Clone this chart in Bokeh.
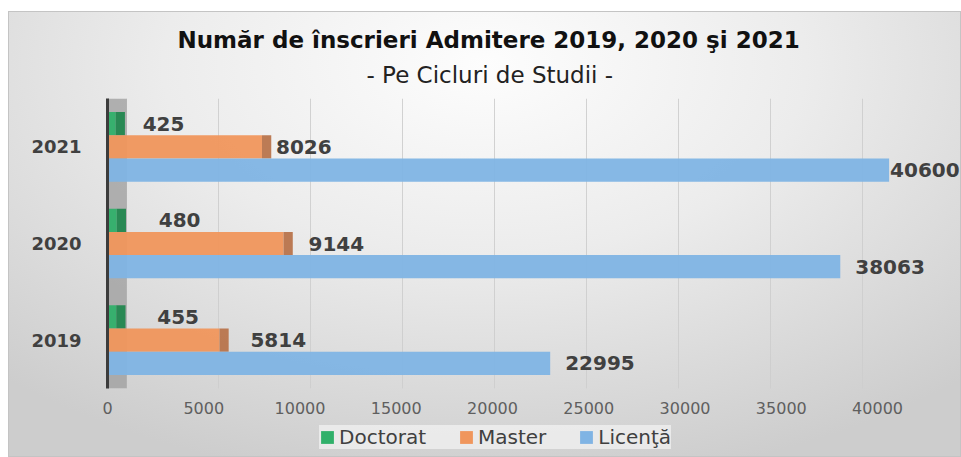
from bokeh.plotting import figure
from bokeh.layouts import column
from bokeh.models import (ColumnDataSource, FactorRange, Range1d, Legend, LegendItem,
                          BoxAnnotation, Title, Grid, FixedTicker)
from bokeh.transform import dodge
from bokeh.core.properties import value
from bokeh.embed import file_html
from bokeh.resources import INLINE

# ---------------- data ----------------
years = ["2019", "2020", "2021"]
doctorat = [455, 480, 425]
master = [5814, 9144, 8026]
licenta = [22995, 38063, 40600]
series_names = ["Doctorat", "Master", "Licenţă"]
x_ticks = [0, 5000, 10000, 15000, 20000, 25000, 30000, 35000, 40000]
x_tick_labels = ["0", "5000", "10000", "15000", "20000", "25000", "30000", "35000", "40000"]
title_text = "Număr de înscrieri Admitere 2019, 2020 şi 2021"
subtitle_text = "- Pe Cicluri de Studii -"

# ---------------- style ----------------
FONT = "DejaVu Sans"
GREEN, GREEN_SIDE = "#30b06a", "#22874f"
ORANGE, ORANGE_SIDE = "#f0965c", "#b8744c"
BLUE = "#80b4e4"
BAR_H = 0.24
DEPTH = 480            # depth of the pseudo-3D end face, in value units
# label pixel offsets per series (2019, 2020, 2021)
LABEL_DX = {"Doctorat": [41, 42, 27], "Master": [31, 25, 14], "Licenţă": [15, 15, 1]}

series_vals = {"Doctorat": doctorat, "Master": master, "Licenţă": licenta}
series_col = {"Doctorat": (GREEN, GREEN_SIDE), "Master": (ORANGE, ORANGE_SIDE),
              "Licenţă": (BLUE, None)}
series_shift = {"Doctorat": BAR_H, "Master": 0.0, "Licenţă": -BAR_H}

p = figure(width=953, height=406,
           y_range=FactorRange(factors=years),
           x_range=Range1d(0, 44360),
           output_backend="svg", toolbar_location=None,
           min_border_left=99, min_border_right=0,
           min_border_top=87, min_border_bottom=29)
p.border_fill_color = None
p.background_fill_color = None
p.outline_line_color = None

# back-plane grid (perspective shifted)
p.extra_x_ranges = {"back": Range1d(-1033, 45380)}
p.xgrid.visible = False
p.ygrid.visible = False
g = Grid(dimension=0, ticker=FixedTicker(ticks=x_ticks), x_range_name="back",
         grid_line_color="#cdcdcd", grid_line_alpha=0.9)
p.add_layout(g, "center")

# gray side wall next to the axis
p.add_layout(BoxAnnotation(left=0, right=1000, fill_color="#9c9c9c", fill_alpha=0.75,
                           line_color=None, level="underlay"))

for name in series_names:
    vals = series_vals[name]
    front, side = series_col[name]
    src = ColumnDataSource(dict(
        year=years, val=vals,
        face=[v + DEPTH for v in vals],
        lab=[str(v) for v in vals],
        dx=LABEL_DX[name],
    ))
    ypos = dodge("year", series_shift[name], range=p.y_range)
    p.hbar(y=ypos, left=0, right="val", height=BAR_H, source=src,
           fill_color=front, fill_alpha=0.95, line_color=None)
    if side is not None:
        p.hbar(y=ypos, left="val", right="face", height=BAR_H, source=src,
               fill_color=side, fill_alpha=0.95, line_color=None)
    p.text(x="val", y=ypos, text="lab", x_offset="dx", source=src,
           text_font=value(FONT), text_font_style="bold", text_font_size="20px",
           text_color="#404040", text_baseline="middle", text_align="left")

# axes
p.xaxis.ticker = FixedTicker(ticks=x_ticks)
p.xaxis.major_label_overrides = dict(zip(x_ticks, x_tick_labels))
p.xaxis.axis_line_color = None
p.xaxis.major_tick_line_color = None
p.xaxis.minor_tick_line_color = None
p.xaxis.major_label_text_font = FONT
p.xaxis.major_label_text_font_size = "16px"
p.xaxis.major_label_text_color = "#5f5f5f"
p.xaxis.major_label_standoff = 7

p.yaxis.axis_line_color = "#3c3c3c"
p.yaxis.axis_line_width = 3
p.yaxis.major_tick_line_color = None
p.yaxis.minor_tick_line_color = None
p.yaxis.major_label_text_font = FONT
p.yaxis.major_label_text_font_style = "bold"
p.yaxis.major_label_text_font_size = "18px"
p.yaxis.major_label_text_color = "#404040"
p.yaxis.major_label_standoff = 20

# titles
sub = Title(text=subtitle_text, align="left", offset=259, standoff=21,
            text_font=FONT, text_font_style="normal", text_font_size="23px",
            text_color="#222222")
main = Title(text=title_text, align="left", offset=70, standoff=-6,
             text_font=FONT, text_font_style="bold", text_font_size="23px",
             text_color="#111111")
p.add_layout(sub, "above")
p.add_layout(main, "above")

# legend strip below the chart
leg = figure(width=953, height=40, x_range=Range1d(0, 1), y_range=Range1d(0, 1),
             output_backend="svg", toolbar_location=None,
             x_axis_location=None, y_axis_location=None,
             min_border=0)
leg.border_fill_color = None
leg.background_fill_color = None
leg.outline_line_color = None
leg.xgrid.visible = False
leg.ygrid.visible = False
items = []
for name in series_names:
    # legend swatch only: a single bar placed outside the visible range
    r = leg.hbar(y=[-5], left=[0], right=[1], height=0.5,
                 fill_color=series_col[name][0], line_color=None)
    items.append(LegendItem(label=name, renderers=[r]))
legend = Legend(items=items, orientation="horizontal", location=(212, 8),
                label_text_font=FONT, label_text_font_size="20px", label_text_color="#404040",
                glyph_width=16, glyph_height=16, label_standoff=4, spacing=32,
                padding=6, margin=0,
                background_fill_color="#f4f4f4", background_fill_alpha=0.7,
                border_line_color=None)
leg.add_layout(legend, "center")

layout = column(p, leg, spacing=0,
                styles={"margin-top": "11px", "margin-left": "8px",
                        "background": "radial-gradient(ellipse 75% 95% at 50% 12%, #fdfdfd 0%, #ececec 45%, #cdcdcd 100%)",
                        "box-shadow": "inset 0 0 0 1px #c4c4c4"})

open("out.html", "w").write(file_html(layout, INLINE))
